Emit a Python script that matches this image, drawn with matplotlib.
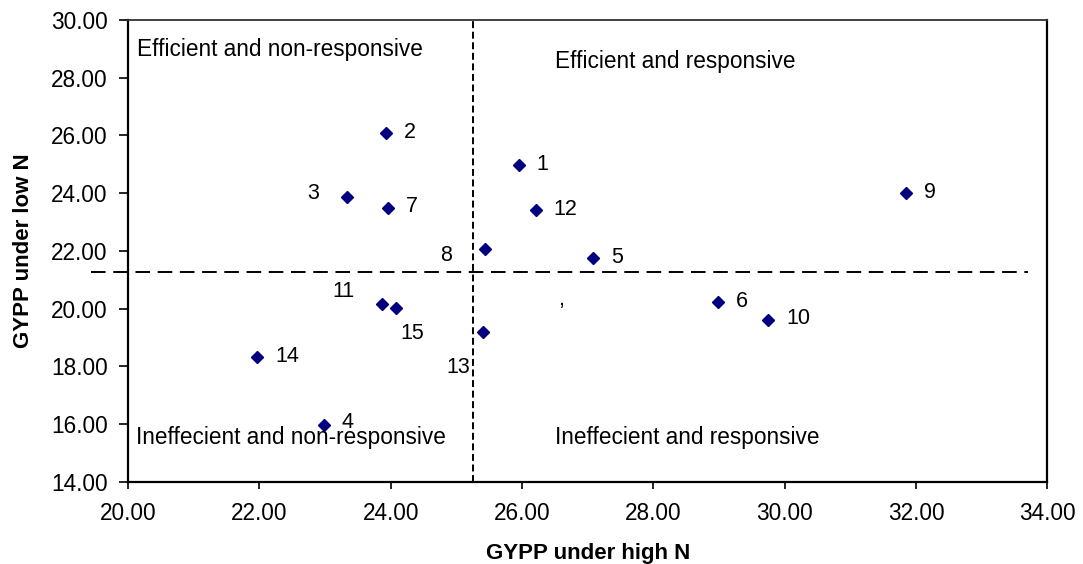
import matplotlib
matplotlib.use('Agg')
import matplotlib.pyplot as plt

plt.rcParams['font.family'] = ['Liberation Sans', 'DejaVu Sans']
plt.rcParams['lines.scale_dashes'] = False

# genotype numbers and their grain yield per plant (GYPP)
genotypes = ['1', '2', '3', '4', '5', '6', '7', '8', '9', '10', '11', '12', '13', '14', '15']
gypp_high_n = [25.95, 23.93, 23.33, 22.98, 27.08, 28.98, 23.96, 25.44, 31.84, 29.75,
               23.87, 26.21, 25.41, 21.97, 24.08]
gypp_low_n = [24.98, 26.07, 23.86, 15.97, 21.76, 20.22, 23.50, 22.06, 24.01, 19.62,
              20.17, 23.40, 19.18, 18.31, 20.02]

# means that split the plot into four groups
mean_high = 25.25
mean_low = 21.27

x_ticks = [20, 22, 24, 26, 28, 30, 32, 34]
y_ticks = [14, 16, 18, 20, 22, 24, 26, 28, 30]

quadrants = ['Efficient and non-responsive', 'Efficient and responsive',
             'Ineffecient and non-responsive', 'Ineffecient and responsive']

FS = 16.3       # tick labels
FS_PT = 15.5    # point labels
FS_Q = 16.3     # quadrant captions
FS_AX = 16      # axis titles
NAVY = '#000080'

fig = plt.figure(figsize=(10.83, 5.64), dpi=100)
ax = fig.add_axes([0.1182, 0.1459, 0.8489, 0.8186])

ax.plot(gypp_high_n, gypp_low_n, linestyle='none', marker='D', ms=6.1,
        color=NAVY, zorder=3)

# label placement (offset in points, alignment) - most sit to the right
label_pos = {'3': ((-20, 2.5), 'right'), '8': ((-28, -4.3), 'center'),
             '11': ((-28, 8.6), 'center'), '15': ((12, -18.5), 'center'),
             '13': ((-18, -25.6), 'center'), '4': ((13, 2.0), 'left')}
for name, xv, yv in zip(genotypes, gypp_high_n, gypp_low_n):
    off, ha = label_pos.get(name, ((13, 0.5), 'left'))
    ax.annotate(name, (xv, yv), xytext=off, textcoords='offset points',
                ha=ha, va='center', fontsize=FS_PT, color='black')

# dashed mean lines
ax.axvline(mean_high, color='black', lw=1.4, dashes=(5, 2.6), zorder=2)
ax.plot([19.44, 33.70], [mean_low, mean_low], color='black', lw=1.4,
        dashes=(10.5, 5.5), clip_on=False, zorder=2)

# quadrant captions (baseline placed)
ax.text(20.13, 28.75, quadrants[0], fontsize=FS_Q, ha='left', va='baseline')
ax.text(26.50, 28.35, quadrants[1], fontsize=FS_Q, ha='left', va='baseline')
ax.text(20.12, 15.31, quadrants[2], fontsize=FS_Q, ha='left', va='baseline')
ax.text(26.50, 15.31, quadrants[3], fontsize=FS_Q, ha='left', va='baseline')
ax.text(26.59, 20.12, ',', fontsize=FS_PT, ha='center', va='baseline')

ax.set_xlim(20, 34)
ax.set_ylim(14, 30)
ax.set_xticks(x_ticks)
ax.set_yticks(y_ticks)
ax.set_xticklabels(['%.2f' % v for v in x_ticks])
ax.set_yticklabels(['%.2f' % v for v in y_ticks])
ax.tick_params(axis='x', length=5, width=1.2, pad=9.5, labelsize=FS)
ax.tick_params(axis='y', length=6.5, width=1.2, pad=8, labelsize=FS)

for side in ['left', 'bottom', 'right']:
    ax.spines[side].set_linewidth(1.6)
    ax.spines[side].set_color('black')
ax.spines['top'].set_linewidth(1.3)
ax.spines['top'].set_color('#333333')

ax.set_xlabel('GYPP under high N', fontsize=FS_AX, fontweight='bold', labelpad=13)
ax.set_ylabel('GYPP under low N', fontsize=FS_AX, fontweight='bold', labelpad=12)

fig.savefig('out.png', dpi=100)
